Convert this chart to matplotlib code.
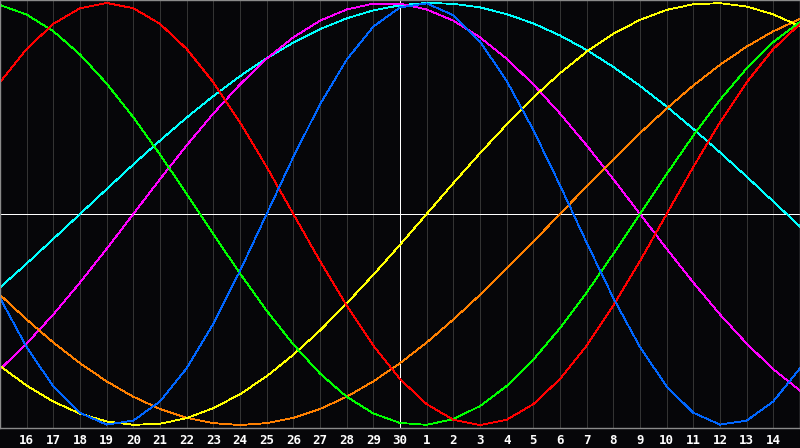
import numpy as np
import matplotlib
matplotlib.use("Agg")
import matplotlib.pyplot as plt

# days shown: 15th of last month .. 15th of this month (labels only on 16..14)
day_labels = ["16", "17", "18", "19", "20", "21", "22", "23", "24", "25", "26",
              "27", "28", "29", "30", "1", "2", "3", "4", "5", "6", "7", "8",
              "9", "10", "11", "12", "13", "14"]

# one value per day (-1 .. 1)
physical = [-0.398, -0.631, -0.817, -0.942, -0.998, -0.979, -0.888, -0.731, -0.520, -0.270,
            0.000, 0.270, 0.520, 0.731, 0.888, 0.979, 0.998, 0.942, 0.817, 0.631, 0.398,
            0.136, -0.136, -0.398, -0.631, -0.817, -0.942, -0.998, -0.979, -0.888, -0.731]
emotional = [0.624, 0.782, 0.901, 0.975, 1.000, 0.975, 0.901, 0.782, 0.624, 0.434, 0.223,
             0.000, -0.223, -0.434, -0.624, -0.782, -0.901, -0.975, -1.000, -0.975, -0.901,
             -0.782, -0.624, -0.434, -0.223, 0.000, 0.223, 0.434, 0.624, 0.782, 0.901]
intellectual = [0.990, 0.945, 0.866, 0.756, 0.618, 0.458, 0.282, 0.095, -0.095, -0.282,
                -0.458, -0.618, -0.756, -0.866, -0.945, -0.990, -0.999, -0.972, -0.910,
                -0.815, -0.690, -0.541, -0.372, -0.189, 0.000, 0.189, 0.372, 0.541, 0.690,
                0.815, 0.910]
intuitive = [-0.736, -0.614, -0.476, -0.325, -0.165, 0.000, 0.165, 0.325, 0.476, 0.614,
             0.736, 0.837, 0.916, 0.969, 0.997, 0.997, 0.969, 0.916, 0.837, 0.736, 0.614,
             0.476, 0.325, 0.165, 0.000, -0.165, -0.325, -0.476, -0.614, -0.736, -0.837]
aesthetic = [-0.720, -0.813, -0.889, -0.946, -0.983, -0.999, -0.994, -0.967, -0.920, -0.854,
             -0.769, -0.667, -0.552, -0.424, -0.288, -0.146, 0.000, 0.146, 0.288, 0.424,
             0.552, 0.667, 0.769, 0.854, 0.920, 0.967, 0.994, 0.999, 0.983, 0.946, 0.889]
awareness = [-0.383, -0.500, -0.609, -0.707, -0.793, -0.866, -0.924, -0.966, -0.991, -1.000,
             -0.991, -0.966, -0.924, -0.866, -0.793, -0.707, -0.609, -0.500, -0.383, -0.259,
             -0.131, 0.000, 0.131, 0.259, 0.383, 0.500, 0.609, 0.707, 0.793, 0.866, 0.924]
spiritual = [-0.348, -0.235, -0.118, 0.000, 0.118, 0.235, 0.348, 0.457, 0.559, 0.653, 0.738,
             0.812, 0.876, 0.927, 0.965, 0.989, 1.000, 0.996, 0.979, 0.947, 0.903, 0.846,
             0.777, 0.697, 0.607, 0.509, 0.403, 0.292, 0.177, 0.059, -0.059]

curves = [
    (spiritual,    "#00ffff"),
    (intuitive,    "#ff00ff"),
    (awareness,    "#ff8000"),
    (aesthetic,    "#ffff00"),
    (intellectual, "#00ff00"),
    (emotional,    "#ff0000"),
    (physical,     "#0066ff"),
]

BG = "#060609"
W, H = 800, 448
fig = plt.figure(figsize=(W / 100, H / 100), dpi=100, facecolor=BG)
ax = fig.add_axes([0, 20 / H, 1, 428 / H])
ax.set_facecolor(BG)

x = np.arange(len(physical))
ax.set_xlim(0, len(physical) - 1)
ax.set_ylim(-1.014, 1.014)

# day grid, today in white
today = len(physical) // 2
for i in range(1, len(physical) - 1):
    ax.axvline(i, color="white" if i == today else "#333333", lw=0.6,
               antialiased=False, zorder=1)
ax.axhline(0, color="white", lw=0.6, antialiased=False, zorder=1)

for vals, col in curves:
    ax.plot(x, vals, color=col, lw=0.6, antialiased=False, zorder=2)

for s in ax.spines.values():
    s.set_color("#8a8a8a")
    s.set_linewidth(1.0)

ax.set_yticks([])
ax.set_xticks(x[1:-1])
ax.set_xticklabels(day_labels, color="white", fontsize=9, fontweight="bold",
                   family="DejaVu Sans Mono")
ax.tick_params(axis="x", length=0, pad=4)

fig.savefig("out.png", dpi=100, facecolor=BG)
